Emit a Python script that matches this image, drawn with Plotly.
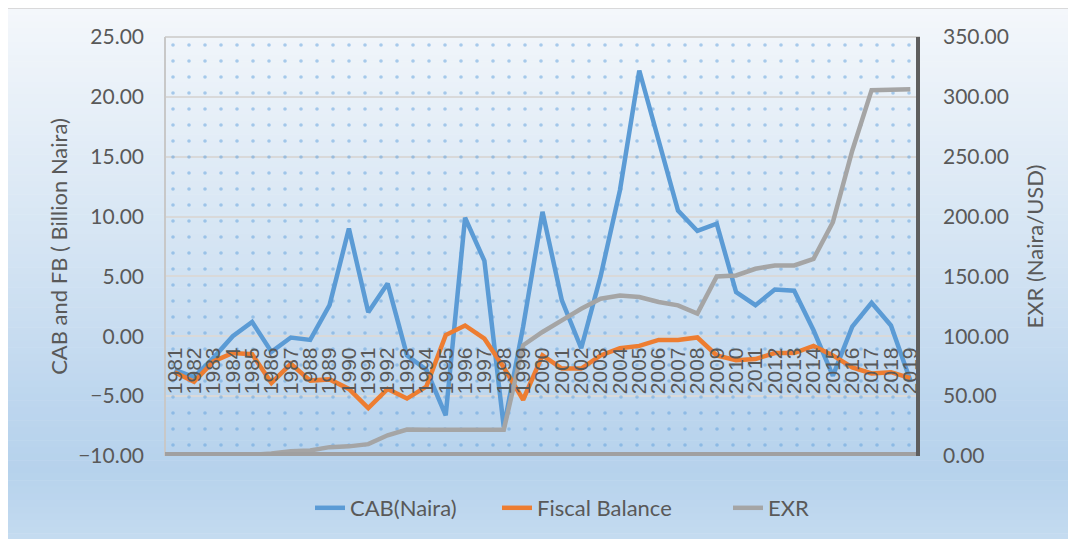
import plotly.graph_objects as go

years = list(range(1981, 2020))
cab = [-2.8, -3.4, -1.8, 0.0, 1.2, -1.3, -0.1, -0.3, 2.6, 9.0,
       2.0, 4.4, -1.6, -2.8, -6.6, 9.9, 6.3, -7.6, 0.8, 10.4,
       3.0, -1.0, 5.0, 12.2, 22.2, 16.3, 10.5, 8.8, 9.4, 3.7,
       2.6, 3.9, 3.8, 0.5, -3.3, 0.8, 2.8, 0.9, -3.7]
fiscal = [-3.0, -3.8, -2.1, -1.4, -1.5, -3.9, -2.3, -3.7, -3.6, -4.4,
          -6.0, -4.4, -5.2, -4.2, 0.1, 0.9, -0.2, -2.6, -5.3, -1.6,
          -2.7, -2.7, -1.6, -1.0, -0.8, -0.3, -0.3, -0.1, -1.6, -2.0,
          -1.9, -1.4, -1.4, -0.8, -1.6, -2.6, -3.1, -3.0, -3.5]
exr = [0.61, 0.67, 0.72, 0.76, 0.89, 2.02, 4.02, 4.54, 7.39, 8.04,
       9.91, 17.30, 22.05, 21.9, 21.9, 21.9, 21.9, 21.9, 92.5, 103.6,
       113.3, 123.0, 131.4, 134.0, 132.8, 128.6, 125.8, 118.9, 150.0, 150.8,
       156.4, 159.2, 159.2, 164.7, 195.3, 255.0, 305.6, 305.6, 306.4]

left_range = [-10, 25]
right_range = [0, 350]
x_range = [years[0] - 0.5, years[-1] + 0.5]

# page body has an 8px margin: work in window pixels, offset the figure
OFF = 8
WIN_W, WIN_H = 1076, 539
W, H = WIN_W - OFF, WIN_H - OFF
PL, PR, PT, PB = 165, 920, 37, 456          # plot area in window pixels
ML, MR, MT, MB = PL - OFF, WIN_W - PR, PT - OFF, WIN_H - PB
PW, PH = PR - PL, PB - PT

def px_x(px):
    return (px - PL) / PW

def px_y(py):
    return (PB - py) / PH

TXT = "#595959"
FONT = "Lato"

fig = go.Figure()

# dotted texture over plot area
fig.add_trace(go.Scatter(
    x=[x_range[0], x_range[1], x_range[1], x_range[0], x_range[0]],
    y=[left_range[0], left_range[0], left_range[1], left_range[1], left_range[0]],
    mode="lines", line=dict(width=0), fill="toself",
    fillcolor="rgba(0,0,0,0)",
    fillpattern=dict(shape=".", fgcolor="#5f9fdc", bgcolor="rgba(0,0,0,0)",
                     size=16, solidity=0.04),
    hoverinfo="skip", showlegend=False))

fig.add_trace(go.Scatter(x=years, y=cab, name="CAB(Naira)", mode="lines",
                         line=dict(color="#5b9bd5", width=4.5), legend="legend"))
fig.add_trace(go.Scatter(x=years, y=fiscal, name="Fiscal Balance", mode="lines",
                         line=dict(color="#ed7d31", width=4.5), legend="legend2"))
fig.add_trace(go.Scatter(x=years, y=exr, name="EXR", mode="lines", yaxis="y2",
                         line=dict(color="#a5a5a5", width=4.5), legend="legend3"))

# gradient background for the chart area
stops = [(8, (0xf4, 0xf7, 0xfb)), (100, (0xe8, 0xf0, 0xf8)), (250, (0xd4, 0xe4, 0xf3)),
         (400, (0xbd, 0xd6, 0xee)), (470, (0xb6, 0xd2, 0xec)), (539, (0xc4, 0xdb, 0xf0))]

def col_at(py):
    for (a, ca), (b, cb) in zip(stops[:-1], stops[1:]):
        if a <= py <= b:
            t = (py - a) / (b - a)
            c = [round(ca[i] + (cb[i] - ca[i]) * t) for i in range(3)]
            return "rgb(%d,%d,%d)" % tuple(c)
    return "rgb(%d,%d,%d)" % stops[-1][1]

shapes = []
n = 80
top, bot = 8, 540
for i in range(n):
    y0 = top + (bot - top) * i / n
    y1 = top + (bot - top) * (i + 1) / n
    shapes.append(dict(type="rect", xref="paper", yref="paper", layer="below",
                       x0=px_x(7), x1=px_x(1080), y0=px_y(y1 + 0.5), y1=px_y(y0),
                       line=dict(width=0), fillcolor=col_at((y0 + y1) / 2)))
# chart-area border
shapes.append(dict(type="rect", xref="paper", yref="paper", layer="below",
                   x0=px_x(7), x1=px_x(1085), y0=px_y(545), y1=px_y(8),
                   line=dict(width=1.5, color="#d0d0d0"), fillcolor="rgba(0,0,0,0)"))
# plot area bevel frame
shapes.append(dict(type="line", xref="paper", yref="paper", layer="above",
                   x0=0, x1=1, y0=1, y1=1, line=dict(width=2, color="#d4d4d4")))
shapes.append(dict(type="line", xref="paper", yref="paper", layer="above",
                   x0=0, x1=0, y0=0, y1=1, line=dict(width=2, color="#c8c8c8")))
shapes.append(dict(type="line", xref="paper", yref="paper", layer="above",
                   x0=0, x1=1, y0=px_y(454), y1=px_y(454), line=dict(width=4, color="#a0a0a0")))
shapes.append(dict(type="line", xref="paper", yref="paper", layer="above",
                   x0=px_x(918), x1=px_x(918), y0=0, y1=1, line=dict(width=4, color="#5e5e5e")))

zero_pos = (0 - left_range[0]) / (left_range[1] - left_range[0])

leg_common = dict(orientation="h", xanchor="left", y=px_y(508), yanchor="middle",
                  bgcolor="rgba(0,0,0,0)", font=dict(family=FONT, size=22, color=TXT))

fig.update_layout(
    width=W, height=H,
    margin=dict(l=ML, r=MR, t=MT, b=MB, autoexpand=False),
    paper_bgcolor="white", plot_bgcolor="white",
    shapes=shapes,
    xaxis=dict(range=x_range, tickmode="array", tickvals=years,
               ticktext=[str(y) for y in years], tickangle=-90,
               anchor="free", position=zero_pos, showgrid=False, zeroline=False,
               showline=False, ticks="", ticklabelstandoff=6,
               tickfont=dict(family="Liberation Sans", size=21, color=TXT)),
    yaxis=dict(range=left_range, dtick=5, tickformat=".2f", showgrid=True,
               gridcolor="#d9d9d9", gridwidth=1.5, zeroline=False, showline=False,
               ticks="", ticklabelstandoff=20, automargin=False,
               tickfont=dict(family=FONT, size=21, color=TXT),
               title=dict(text="CAB and FB ( Billion Naira)", standoff=4,
                          font=dict(family=FONT, size=22, color=TXT))),
    yaxis2=dict(range=right_range, dtick=50, tickformat=".2f", overlaying="y",
                side="right", showgrid=False, zeroline=False, showline=False,
                ticks="", ticklabelstandoff=22, automargin=False,
                tickfont=dict(family=FONT, size=21, color=TXT),
                title=dict(text="EXR (Naira/USD)", standoff=19,
                           font=dict(family=FONT, size=22, color=TXT))),
    legend=dict(x=px_x(310), **leg_common),
    legend2=dict(x=px_x(497), **leg_common),
    legend3=dict(x=px_x(728), **leg_common),
    showlegend=True,
)

fig.write_html("out.html")
